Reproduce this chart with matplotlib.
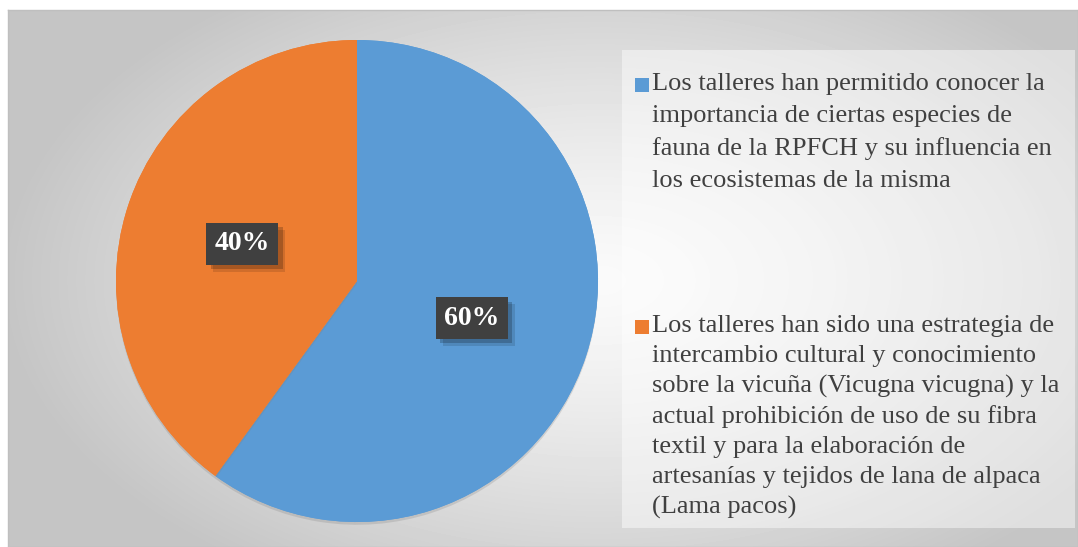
import numpy as np
import matplotlib
matplotlib.use("Agg")
import matplotlib.pyplot as plt
import matplotlib.patheffects as pe
from matplotlib.patches import Rectangle

# datos
shares = [60, 40]
colors = ["#5B9BD5", "#ED7D31"]
labels = [
    "Los talleres han permitido conocer la\nimportancia de ciertas especies de\n"
    "fauna de la RPFCH y su influencia en\nlos ecosistemas de la misma",
    "Los talleres han sido una estrategia de\nintercambio cultural y conocimiento\n"
    "sobre la vicuña (Vicugna vicugna) y la\nactual prohibición de uso de su fibra\n"
    "textil y para la elaboración de\nartesanías y tejidos de lana de alpaca\n(Lama pacos)",
]

W, H = 1078, 547
fig = plt.figure(figsize=(W / 100, H / 100), dpi=100)
plt.rcParams["font.family"] = ["Liberation Serif", "DejaVu Serif"]

def fx(px):
    return px / W

def fy(py):
    return 1 - py / H

# fondo gris con degradado radial
bg = fig.add_axes([fx(8), fy(547), fx(1070), 537 / H])
yy, xx = np.mgrid[10:547, 8:1078]
d = np.sqrt(((xx - 600) / 580.0) ** 2 + ((yy - 280) / 340.0) ** 2)
val = np.clip(0.98 - 0.2 * d ** 1.3, 0.77, 1)
bg.imshow(val, cmap="gray", vmin=0, vmax=1, aspect="auto", interpolation="bilinear")
bg.set_xticks([])
bg.set_yticks([])
for s in bg.spines.values():
    s.set_color("#bfbfbf")
    s.set_linewidth(1)

# caja de leyenda
fig.patches.append(Rectangle((fx(622), fy(528)), fx(453), (528 - 50) / H,
                             transform=fig.transFigure, facecolor="white",
                             alpha=0.45, edgecolor="none", zorder=1))

# pastel
ax = fig.add_axes([fx(116), fy(522), fx(482), 482 / H])
wedges, texts, autotexts = ax.pie(shares, colors=colors, startangle=90, counterclock=False,
                                  autopct="%d%%", pctdistance=0.5,
                                  wedgeprops=dict(linewidth=0))
ax.set_xlim(-1, 1)
ax.set_ylim(-1, 1)
ax.set_aspect("auto")
for w in wedges:
    w.set_path_effects([
        pe.withSimplePatchShadow(offset=(0, -2), shadow_rgbFace="#808080", alpha=0.25),
        pe.Normal()])
for t in autotexts:
    t.set_color("white")
    t.set_fontsize(20)
    t.set_fontweight("bold")
    t.set_bbox(dict(boxstyle="square,pad=0.3", facecolor="#404040", edgecolor="none",
                    linewidth=0))
    t.get_bbox_patch().set_path_effects([
        pe.SimplePatchShadow(offset=(5, -5), shadow_rgbFace="black", alpha=0.12),
        pe.SimplePatchShadow(offset=(3, -3), shadow_rgbFace="black", alpha=0.2),
        pe.Normal()])

# leyenda manual, una línea de texto a la vez para un interlineado regular
first_base = [90, 332]
steps = [32.3, 30.2]
for lab, col, base, step in zip(labels, colors, first_base, steps):
    fig.patches.append(Rectangle((fx(635), fy(base + 2)), fx(14), 14 / H,
                                 transform=fig.transFigure, facecolor=col,
                                 edgecolor="none", zorder=3))
    for i, line in enumerate(lab.split("\n")):
        fig.text(fx(652), fy(base + i * step), line, fontsize=19, color="#404040",
                 va="baseline", ha="left", zorder=4)

fig.savefig("out.png", dpi=100, facecolor="white")
